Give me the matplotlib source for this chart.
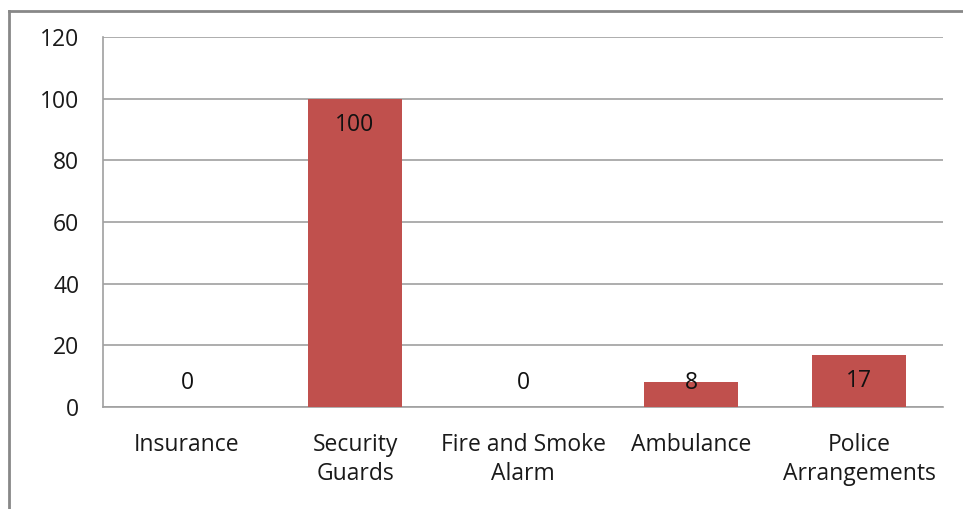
import matplotlib
matplotlib.use("Agg")
import matplotlib.pyplot as plt
from matplotlib.lines import Line2D

categories = ["Insurance", "Security\nGuards", "Fire and Smoke\nAlarm", "Ambulance", "Police\nArrangements"]
values = [0, 100, 0, 8, 17]
yticks = [0, 20, 40, 60, 80, 100, 120]

plt.rcParams['font.family'] = ['Open Sans', 'DejaVu Sans']

fig = plt.figure(figsize=(9.63, 5.09), dpi=100)
ax = fig.add_axes([103/963, 1-407/509, 840/963, 370/509])

bar_color = "#C0504D"
x = list(range(len(categories)))
ax.bar(x, values, width=0.56, color=bar_color, zorder=3)

fs = 16.5
ax.set_ylim(0, 120)
ax.set_xlim(-0.5, len(categories) - 0.5)
ax.set_yticks(yticks)
ax.set_yticklabels([str(t) for t in yticks], fontsize=fs, color="#1a1a1a")
ax.set_xticks(x)
ax.set_xticklabels(categories, fontsize=fs, color="#1a1a1a", linespacing=1.25)
ax.tick_params(axis='y', length=0, pad=17)
ax.tick_params(axis='x', length=0, pad=19)

ax.grid(axis='y', color="#A0A0A0", linewidth=1.2, zorder=0)
for s in ['top', 'right']:
    ax.spines[s].set_visible(False)
ax.spines['left'].set_color("#A0A0A0")
ax.spines['bottom'].set_color("#A0A0A0")
ax.spines['left'].set_linewidth(1.2)
ax.spines['bottom'].set_linewidth(1.2)

# data labels: inside end, clamped near the baseline for short bars
px_per_unit = 370 / 120
for xi, v in zip(x, values):
    y_lab = max(v - 26 / px_per_unit, 24 / px_per_unit)
    ax.text(xi, y_lab, str(v), ha='center', va='center', fontsize=fs, color="#111111", zorder=4)

# outer frame (top and left edges visible)
fig.add_artist(Line2D([9/963, 1.0], [1-11/509, 1-11/509], transform=fig.transFigure, color="#888888", linewidth=2))
fig.add_artist(Line2D([9/963, 9/963], [0, 1-11/509], transform=fig.transFigure, color="#888888", linewidth=2))

fig.savefig("out.png", dpi=100)
